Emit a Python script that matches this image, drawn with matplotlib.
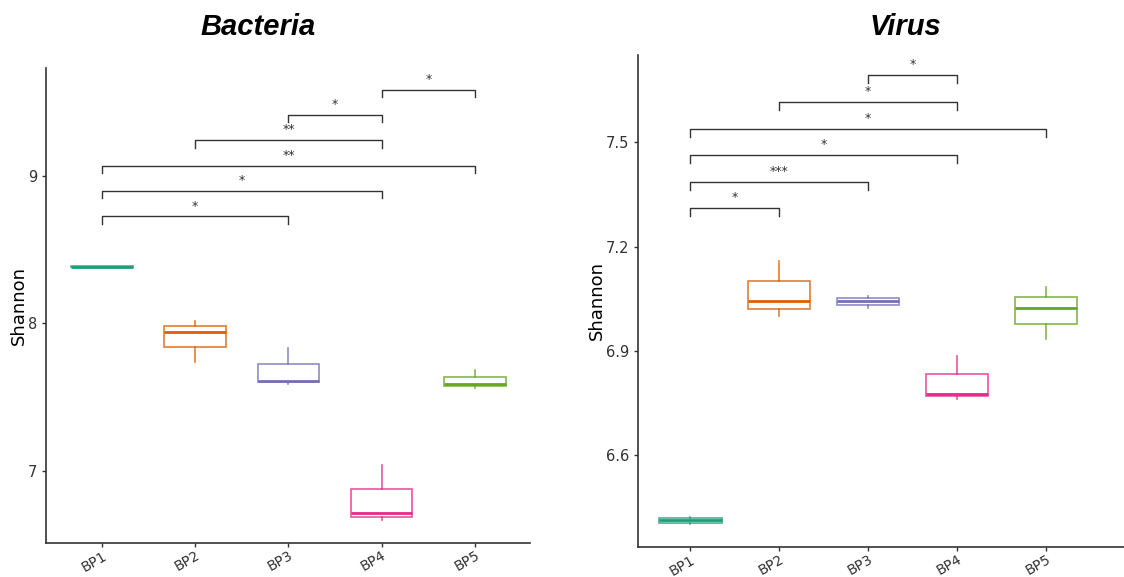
import matplotlib
matplotlib.use("Agg")
import matplotlib.pyplot as plt

groups = ["BP1", "BP2", "BP3", "BP4", "BP5"]
colors = ["#1B9E77", "#D95F02", "#7570B3", "#E7298A", "#66A61E"]

# box statistics: lower whisker, q1, median, q3, upper whisker
bac_lo = [8.380, 7.74, 7.59, 6.664, 7.564]
bac_q1 = [8.380, 7.84, 7.60, 6.688, 7.576]
bac_med = [8.383, 7.94, 7.607, 6.714, 7.585]
bac_q3 = [8.386, 7.98, 7.724, 6.876, 7.634]
bac_hi = [8.386, 8.015, 7.83, 7.04, 7.68]

vir_lo = [6.402, 7.002, 7.023, 6.763, 6.935]
vir_q1 = [6.407, 7.022, 7.032, 6.771, 6.979]
vir_med = [6.414, 7.044, 7.043, 6.778, 7.025]
vir_q3 = [6.419, 7.101, 7.053, 6.833, 7.055]
vir_hi = [6.422, 7.158, 7.057, 6.885, 7.085]

# pairwise comparisons (group indices, 1-based) and their labels
bac_pairs = [(1, 3), (1, 4), (1, 5), (2, 4), (3, 4), (4, 5)]
bac_sig = ["*", "*", "**", "**", "*", "*"]
vir_pairs = [(1, 2), (1, 3), (1, 4), (1, 5), (2, 4), (3, 4)]
vir_sig = ["*", "***", "*", "*", "*", "*"]

plt.rcParams["font.family"] = ["DejaVu Sans"]

fig = plt.figure(figsize=(11.24, 5.77), dpi=100)
ax1 = fig.add_axes([46 / 1124, 1 - 543 / 577, (530 - 46) / 1124, (543 - 68) / 577])
ax2 = fig.add_axes([638 / 1124, 1 - 547 / 577, (1124 - 638) / 1124, (547 - 55) / 577])


def draw(ax, lo, q1, med, q3, hi, pairs, sig, base, step, tick, width, ylim, xlim, yticks, ytl, title, tx):
    stats = []
    for i in range(len(groups)):
        stats.append(dict(whislo=lo[i], q1=q1[i], med=med[i], q3=q3[i], whishi=hi[i], fliers=[]))
    bp = ax.bxp(stats, positions=range(1, len(groups) + 1), widths=width, showcaps=False,
                patch_artist=True)
    for i, c in enumerate(colors):
        bp["boxes"][i].set_facecolor("white")
        bp["boxes"][i].set_edgecolor(c)
        bp["boxes"][i].set_alpha(0.8)
        bp["boxes"][i].set_linewidth(1.2)
        bp["medians"][i].set_color(c)
        bp["medians"][i].set_linewidth(2.0)
        for w in bp["whiskers"][2 * i:2 * i + 2]:
            w.set_color(c)
            w.set_alpha(0.8)
            w.set_linewidth(1.2)

    for k, ((a, b), s) in enumerate(zip(pairs, sig)):
        y = base + k * step
        ax.plot([a, a, b, b], [y - tick, y, y, y - tick], color="#333333", lw=1.0)
        ax.text((a + b) / 2, y + step * 0.15, s, ha="center", va="bottom", fontsize=9, color="#333333")

    ax.set_xlim(*xlim)
    ax.set_ylim(*ylim)
    ax.set_yticks(yticks)
    ax.set_yticklabels(ytl, fontsize=10.5, color="#333333")
    ax.set_xticks(range(1, len(groups) + 1))
    ax.set_xticklabels(groups, rotation=30, ha="right", rotation_mode="anchor", fontsize=10, color="#333333")
    ax.set_ylabel("Shannon", fontsize=13, color="black", labelpad=0)
    for sp in ["top", "right"]:
        ax.spines[sp].set_visible(False)
    for sp in ["left", "bottom"]:
        ax.spines[sp].set_color("#333333")
        ax.spines[sp].set_linewidth(1.2)
    ax.tick_params(axis="both", color="#333333", length=3, width=1)
    ax.tick_params(axis="x", pad=1)
    fig.text(tx, 1 - 27 / 577, title, ha="center", va="center", fontsize=21,
             fontweight="bold", fontstyle="italic", family="Liberation Sans")


draw(ax1, bac_lo, bac_q1, bac_med, bac_q3, bac_hi, bac_pairs, bac_sig,
     8.724, 0.172, 0.05, 0.66, (6.51, 9.73), (0.4, 5.59), [7, 8, 9], ["7", "8", "9"],
     "Bacteria", 258 / 1124)
draw(ax2, vir_lo, vir_q1, vir_med, vir_q3, vir_hi, vir_pairs, vir_sig,
     7.310, 0.0765, 0.023, 0.7, (6.337, 7.751), (0.41, 5.88), [6.6, 6.9, 7.2, 7.5],
     ["6.6", "6.9", "7.2", "7.5"], "Virus", 905 / 1124)

fig.savefig("out.png", dpi=100)
